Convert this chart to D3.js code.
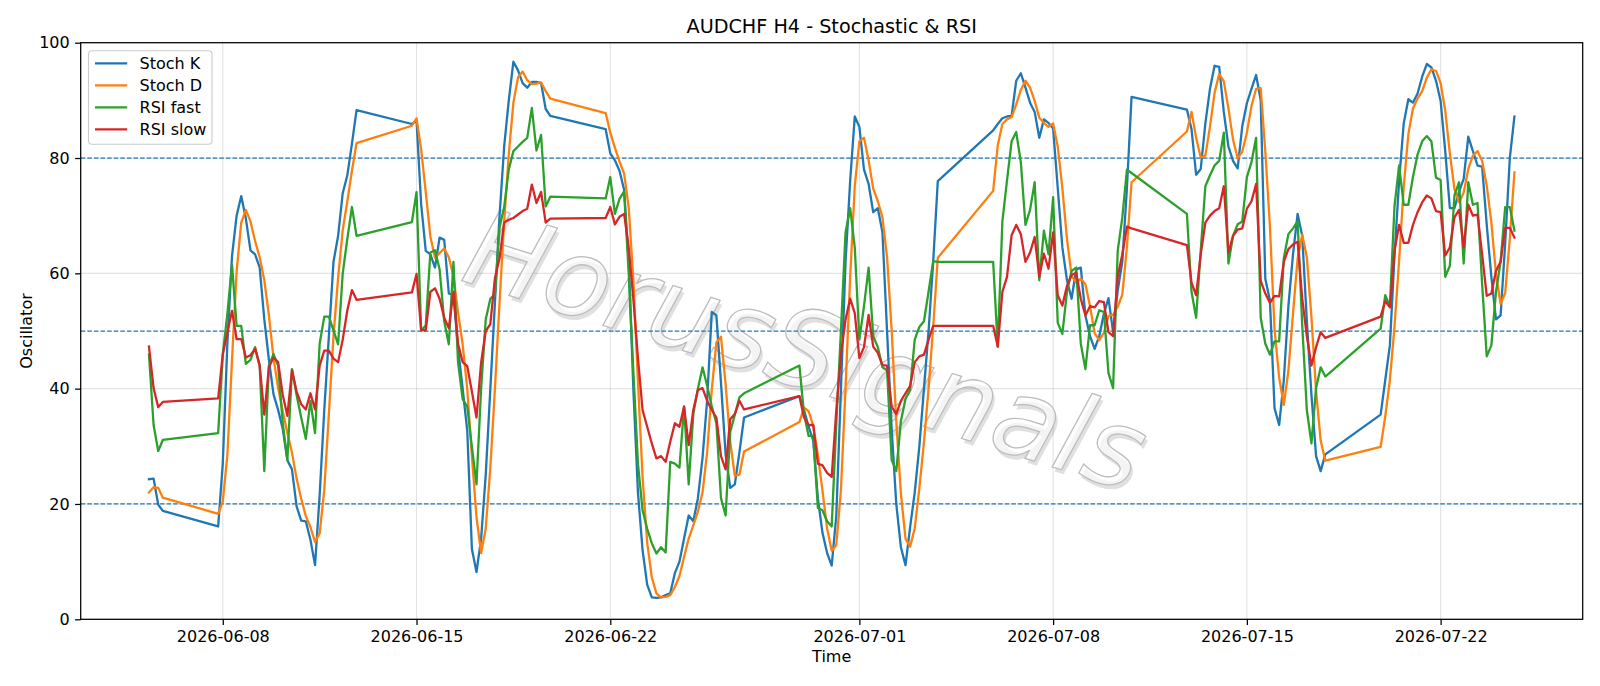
<!DOCTYPE html>
<html><head><meta charset="utf-8">
<script src="https://cdn.jsdelivr.net/npm/d3@7"></script>
<style>
body{margin:0;background:#fff}
svg{display:block}
text{font-family:"DejaVu Sans",sans-serif;fill:#000}
</style></head>
<body><svg id="c" width="1600" height="686"></svg>
<script>
// ---- data (H4 bars, UTC) ----
const times = [
"06-05 08","06-05 12","06-05 16","06-05 20",
"06-07 20",
"06-08 00","06-08 04","06-08 08","06-08 12","06-08 16","06-08 20",
"06-09 00","06-09 04","06-09 08","06-09 12","06-09 16","06-09 20",
"06-10 00","06-10 04","06-10 08","06-10 12","06-10 16","06-10 20",
"06-11 00","06-11 04","06-11 08","06-11 12","06-11 16","06-11 20",
"06-12 00","06-12 04","06-12 08","06-12 12","06-12 16","06-12 20",
"06-14 20",
"06-15 00","06-15 04","06-15 08","06-15 12","06-15 16","06-15 20",
"06-16 00","06-16 04","06-16 08","06-16 12","06-16 16","06-16 20",
"06-17 00","06-17 04","06-17 08","06-17 12","06-17 16","06-17 20",
"06-18 00","06-18 04","06-18 08","06-18 12","06-18 16","06-18 20",
"06-19 00","06-19 04","06-19 08","06-19 12","06-19 16","06-19 20",
"06-21 20",
"06-22 00","06-22 04","06-22 08","06-22 12","06-22 16","06-22 20",
"06-23 00","06-23 04","06-23 08","06-23 12","06-23 16","06-23 20",
"06-24 00","06-24 04","06-24 08","06-24 12","06-24 16","06-24 20",
"06-25 00","06-25 04","06-25 08","06-25 12","06-25 16","06-25 20",
"06-26 00","06-26 04","06-26 08","06-26 12","06-26 16","06-26 20",
"06-28 20",
"06-29 00","06-29 04","06-29 08","06-29 12","06-29 16","06-29 20",
"06-30 00","06-30 04","06-30 08","06-30 12","06-30 16","06-30 20",
"07-01 00","07-01 04","07-01 08","07-01 12","07-01 16","07-01 20",
"07-02 00","07-02 04","07-02 08","07-02 12","07-02 16","07-02 20",
"07-03 00","07-03 04","07-03 08","07-03 12","07-03 16","07-03 20",
"07-05 20",
"07-06 00","07-06 04","07-06 08","07-06 12","07-06 16","07-06 20",
"07-07 00","07-07 04","07-07 08","07-07 12","07-07 16","07-07 20",
"07-08 00","07-08 04","07-08 08","07-08 12","07-08 16","07-08 20",
"07-09 00","07-09 04","07-09 08","07-09 12","07-09 16","07-09 20",
"07-10 00","07-10 04","07-10 08","07-10 12","07-10 16","07-10 20",
"07-12 20",
"07-13 00","07-13 04","07-13 08","07-13 12","07-13 16","07-13 20",
"07-14 00","07-14 04","07-14 08","07-14 12","07-14 16","07-14 20",
"07-15 00","07-15 04","07-15 08","07-15 12","07-15 16","07-15 20",
"07-16 00","07-16 04","07-16 08","07-16 12","07-16 16","07-16 20",
"07-17 00","07-17 04","07-17 08","07-17 12","07-17 16","07-17 20",
"07-19 20",
"07-20 00","07-20 04","07-20 08","07-20 12","07-20 16","07-20 20",
"07-21 00","07-21 04","07-21 08","07-21 12","07-21 16","07-21 20",
"07-22 00","07-22 04","07-22 08","07-22 12","07-22 16","07-22 20",
"07-23 00","07-23 04","07-23 08","07-23 12","07-23 16","07-23 20",
"07-24 00","07-24 04","07-24 08","07-24 12","07-24 16"
];

const stochK = [
24.3,24.4,19.9,18.8,
16.1, 27,48,63,70,73.4,69.5, 64,63.3,61,52,45,39, 36.3,33,27.6,26,19.6,17.1, 17,13.8,9.4,21.5,36.3,49.1, 62,66.5,73.9,77,82.5,88.3,
85.9, 86.5,72,63.9,63.3,61,66.2, 65.8,56.5,56.2,47,40,32.7, 12.2,8.2,14,25,40,55, 70,82,90,96.7,95.2,93, 92.2,93.2,93.2,93,88.5,87.3,
85, 80.8,79.6,77.8,74.5,62,40, 22,12,6,3.8,3.7,3.8, 4.2,4.5,8,10,14,18, 17,21,28,38,53.3,52.7, 41,28.6,22.8,23.4,29,35,
38.7, 36.3,33.4,31,21,15,11.5, 9.3,18,40,62,76,87.2, 85.4,78,75.5,70.6,71.3,67.1, 50,33,20,12.5,9.4,16, 22,30,40,50,62,76,
84.8, 85.9,86.9,87.2,87.3,93.4,94.7, 92.2,89.6,88,83.5,86.7,86.1, 85.1,74.8,64.5,58.8,55.6,60.7, 61,52.7,49.1,46.9,49.1,53, 55.7,49.8,57,62,74.8,90.6,
88.4, 85,77.1,78.1,86,92,96, 95.8,88,82,79.5,78.2,85.5, 89.5,92,94.4,90,59,55.3, 36.6,33.7,41.4,54.3,63.3,70.3, 66.5,51.7,38.9,28.3,25.7,28.6,
35.5, 41.5,47.5,63,76,86,90.2, 89.6,91.2,94.1,96.3,95.7,93.4, 89.9,81.2,71.3,71.3,74.2,76.4, 83.7,81.2,78.7,78.5,68.4,59.4, 52,52.7,65.2,80,87.2
];

const stochD = [
22.0,22.9,22.8,21.1,
18.3, 20.4,28.5,45,60.3,68.8,71, 69,65.6,62.8,58.8,52.7,45.3, 40.1,36.1,32.3,28.9,24.4,20.9, 17.9,16,13.4,14.9,22.4,35.6, 49.1,59.2,67.5,72.5,77.8,82.6,
85.6, 86.9,81.5,74.1,66.4,62.7,63.5, 64.3,62.8,59.5,53.2,47.7,39.9, 28.3,17.7,11.5,15.7,26.3,40, 55,69,80.7,89.6,94,95, 93.5,92.8,92.9,93.1,91.6,90.3,
87.8, 84.4,81.8,79.4,77.3,71.4,58.8, 41.3,24.7,13.3,7.3,4.5,3.8, 3.9,4.2,5.6,7.5,10.8,14, 16.3,18.7,22,29,39.8,48, 49,40.8,30.8,24.9,25.1,29.1,
34.2, 36.7,36.1,33.6,28.5,22.3,15.8, 11.9,12.9,22.4,40,59.3,75.1, 82.9,83.5,79.6,74.7,72.5,69.7, 62.8,50.1,34.3,21.8,14,12.6, 15.8,22.7,30.7,40,50.7,62.7,
74.3, 82.2,85.9,86.7,87.1,89.3,91.8, 93.4,92.2,89.9,87,86.1,85.4, 86,82,74.8,66,59.6,58.4, 59.1,58.1,54.3,49.6,48.4,49.7, 52.6,52.8,54.2,56.3,64.6,75.8,
84.6, 88,83.5,80.1,80.4,85.4,91.3, 94.6,93.3,88.6,83.2,79.9,81.1, 84.4,89,92,92.1,81.1,68.1, 50.3,41.9,37.2,43.1,53,62.6, 66.7,62.8,52.4,39.6,31,27.5,
29.9, 35.2,41.5,50.7,62.2,75,84.1, 88.6,90.3,91.6,93.9,95.4,95.1, 93,88.2,80.8,74.6,72.3,74, 78.1,80.4,81.2,79.5,75.2,68.8, 59.9,54.7,56.6,66,77.5
];

const rsiFast = [
45.9,33.7,29.2,31.1,
32.3, 46,53,61.5,50.9,50.9,44.3, 45,47.2,44,25.7,44,46, 44,34,27.6,43.4,38.9,35, 31.3,37.9,32.3,47.8,52.5,52.5, 50.1,47.7,60,66,71.5,66.5,
68.9, 74.1,50,51,63.6,64,60.7, 51.7,47.7,62,44.6,38.2,36.9, 29.9,23.4,40,52,55.6,56.4, 68,71.5,78,81.2,82,82.8, 83.5,88.7,81.3,84,71.6,73.3,
73, 76.7,70.3,72.9,74.2,60,43, 27,18.9,15.7,13.2,11.4,12.5, 11.6,27.3,27,26.3,36.9,23.4, 35.6,40,43.7,40.5,37,34, 21,18,32.5,35.5,38.5,39.2,
44, 35.6,31.8,31.8,19.3,18.9,17, 16.1,34,50,67.1,71.3,64.5, 48.5,54.3,61,49.1,47.2,43.7, 43.2,27.6,25.7,34.4,38.2,39.8, 48.5,50.7,51.7,56.8,62.1,62,
62, 47.3,69,76.1,82.9,84.5,79.3, 68.4,71,75.8,58.8,67.4,63.3, 73.2,51.4,49.5,56.8,60.4,61, 47.8,43.4,51,51,53.6,53.3, 42.7,40.1,63.9,69.7,78,77.4,
70.3, 56.8,52.3,64,75.1,77,78.7, 79.5,84.4,61.7,66.5,68.5,69, 76.7,79.3,83.5,52.3,47.8,45.9, 48.2,48.2,62.6,66.8,67.8,69, 51,36.3,30.5,40.1,43.7,42.1,
50.4, 56.2,54.3,71.6,78.7,71.9,71.9, 76.7,80.6,82.9,83.8,82.9,76.6, 76.2,59.4,61.3,73.5,75.8,61.7, 75.8,71.9,72.2,58.1,45.6,47.5, 56.8,62,71.5,71.5,67.4
];

const rsiSlow = [
47.3,40.1,36.8,37.7,
38.3, 45.9,49.8,53.5,48.6,48.6,45.4, 45.8,46.9,44,35.5,43.7,45.4, 44.6,38.9,35.3,43.2,39.5,37.3, 36.4,39.2,36.4,44,46.6,46.6, 45.2,44.6,48.5,53.6,57.1,55.4,
56.7, 59.9,50.2,50.1,56.8,57.4,55.6, 52.3,50.5,56.8,47.8,44.6,43.9, 39.5,35,44.5,50,51.2,59.2, 62.6,68.8,69.3,69.6,70.2,70.8, 71.2,75.4,72.2,74.1,68.8,69.5,
69.6, 71.5,68.5,69.8,70.3,64.5,55.6, 45.3,36.3,33.4,30.5,27.9,28.3, 27.3,30.8,34,33.4,36.9,30.2, 36.3,39.8,40.1,37.9,36.3,35, 28.3,26,34.7,35.6,37.9,36.4,
38.7, 35,33.7,33.7,27,26.7,25.4, 24.7,36.3,45.9,52,55.6,53.1, 45.3,47.2,52.8,47.3,46.2,44.1, 44,36.9,35.6,37.9,39.2,40.5, 44.6,45.6,45.9,48.5,50.9,50.9,
50.9, 47.3,56.8,59.4,66.6,68.4,66.8, 62,63.6,66.3,59.4,63.4,60.8, 67.1,56.2,54.4,57.8,59.7,60.1, 55.6,52.7,54.3,54.1,55.2,55, 49.8,49.1,59.4,63.3,68.1,67.8,
64.9, 58.4,56.2,63.3,68.8,70,70.8, 71.3,75.1,63.6,66.5,67.6,67.8, 71.2,72.5,75.5,58.7,56.5,54.9, 56.1,56,62,64.2,65,65.5, 55.6,49.1,44,47.2,49.8,48.8,
52.5, 55.2,54.1,63.9,68.4,65.3,65.3, 68.4,70.6,72.3,73.5,73,70.8, 70.6,63.1,64.5,69.7,71,64.5, 71.9,70,70.2,63.3,56.1,56.5, 60.4,62,67.9,67.9,66.2
];

const seriesNames = ["Stoch K","Stoch D","RSI fast","RSI slow"];
const xTickLabels = ["2026-06-08","2026-06-15","2026-06-22","2026-07-01","2026-07-08","2026-07-15","2026-07-22"];
const yTickValues = [0,20,40,60,80,100];
const levelValues = [80,50,20];
const titleText = "AUDCHF H4 - Stochastic & RSI";

// ---- drawing ----
const colors = ["#1f77b4","#ff7f0e","#2ca02c","#d62728"];
const series = [stochK, stochD, rsiFast, rsiSlow];
const parseT = d3.utcParse("%Y-%m-%d %H");
const dates = times.map(t => parseT("2026-" + t));
const parseD = d3.utcParse("%Y-%m-%d");
const xTicks = xTickLabels.map(parseD);

const M = {l:80.7, r:1582.7, t:42.7, b:619.3};
const t0 = +dates[0], t1 = +dates[dates.length-1], span = t1 - t0;
const x = d3.scaleUtc().domain([new Date(t0 - 0.05*span), new Date(t1 + 0.05*span)]).range([M.l, M.r]);
const y = d3.scaleLinear().domain([0,100]).range([M.b, M.t]);

const svg = d3.select("#c");
svg.append("rect").attr("width",1600).attr("height",686).attr("fill","#fff");

svg.append("defs").append("clipPath").attr("id","clip")
  .append("rect").attr("x",M.l).attr("y",M.t).attr("width",M.r-M.l).attr("height",M.b-M.t);

// grid
const grid = svg.append("g").attr("stroke","#b0b0b0").attr("stroke-opacity",0.35).attr("stroke-width",1.1);
grid.selectAll(".gx").data(xTicks).join("line")
  .attr("x1",d=>x(d)).attr("x2",d=>x(d)).attr("y1",M.t).attr("y2",M.b);
grid.selectAll(".gy").data(yTickValues).join("line")
  .attr("x1",M.l).attr("x2",M.r).attr("y1",d=>y(d)).attr("y2",d=>y(d));

// watermark
const wm = svg.append("g").attr("transform",`translate(${x(parseT("2026-06-28 16"))},${y(40.5)}) rotate(17.5)`);
wm.append("text").attr("text-anchor","middle").attr("x",3.5).attr("y",3.5)
  .style("font-size","108px").style("font-style","italic").style("fill","#000").style("fill-opacity",0.12)
  .text("HorusSignals");
wm.append("text").attr("text-anchor","middle")
  .style("font-size","108px").style("font-style","italic").style("fill","#fff").style("fill-opacity",0.65)
  .style("stroke","#bdbdbd").style("stroke-width",1.3)
  .text("HorusSignals");

// level lines
svg.append("g").selectAll("line").data(levelValues).join("line")
  .attr("x1",M.l).attr("x2",M.r).attr("y1",d=>y(d)).attr("y2",d=>y(d))
  .attr("stroke","#1f77b4").attr("stroke-width",1.25).attr("stroke-dasharray","4.6,2");

// series lines
const line = d3.line().x((d,i)=>x(dates[i])).y(d=>y(d));
svg.append("g").attr("clip-path","url(#clip)").selectAll("path").data(series).join("path")
  .attr("d",line).attr("fill","none").attr("stroke",(d,i)=>colors[i])
  .attr("stroke-width",2.3).attr("stroke-linejoin","round").attr("stroke-linecap","square");

// axes
const xAxis = d3.axisBottom(x).tickValues(xTicks).tickFormat(d3.utcFormat("%Y-%m-%d")).tickSize(5.6).tickPadding(5.4).tickSizeOuter(0);
const gx = svg.append("g").attr("transform",`translate(0,${M.b})`).call(xAxis);
const yAxis = d3.axisLeft(y).tickValues(yTickValues).tickSize(5.6).tickPadding(5.4).tickSizeOuter(0);
const gy = svg.append("g").attr("transform",`translate(${M.l},0)`).call(yAxis);
[gx,gy].forEach(g=>{
  g.select(".domain").remove();
  g.selectAll(".tick line").attr("stroke","#000").attr("stroke-width",1.25);
  g.selectAll(".tick text").style("font-size","16px").style("font-family","DejaVu Sans").attr("fill","#000");
});

// spines
svg.append("rect").attr("x",M.l).attr("y",M.t).attr("width",M.r-M.l).attr("height",M.b-M.t)
  .attr("fill","none").attr("stroke","#000").attr("stroke-width",1.25);

// labels
svg.append("text").attr("x",(M.l+M.r)/2).attr("y",33).attr("text-anchor","middle").style("font-size","19.2px").text(titleText);
svg.append("text").attr("x",(M.l+M.r)/2).attr("y",662).attr("text-anchor","middle").style("font-size","16px").text("Time");
svg.append("text").attr("transform",`translate(31.5,${(M.t+M.b)/2}) rotate(-90)`).attr("text-anchor","middle").style("font-size","16px").text("Oscillator");

// legend
const lg = svg.append("g");
lg.append("rect").attr("x",88.5).attr("y",50.8).attr("width",123.5).attr("height",93.5).attr("rx",3.5)
  .attr("fill","#fff").attr("fill-opacity",0.8).attr("stroke","#cccccc").attr("stroke-width",1.1);
seriesNames.forEach((n,i)=>{
  const cy = 63.3 + i*22;
  lg.append("line").attr("x1",95).attr("x2",127.2).attr("y1",cy).attr("y2",cy).attr("stroke",colors[i]).attr("stroke-width",2.3);
  lg.append("text").attr("x",139.6).attr("y",cy+5.8).style("font-size","16px").text(n);
});
</script></body></html>
